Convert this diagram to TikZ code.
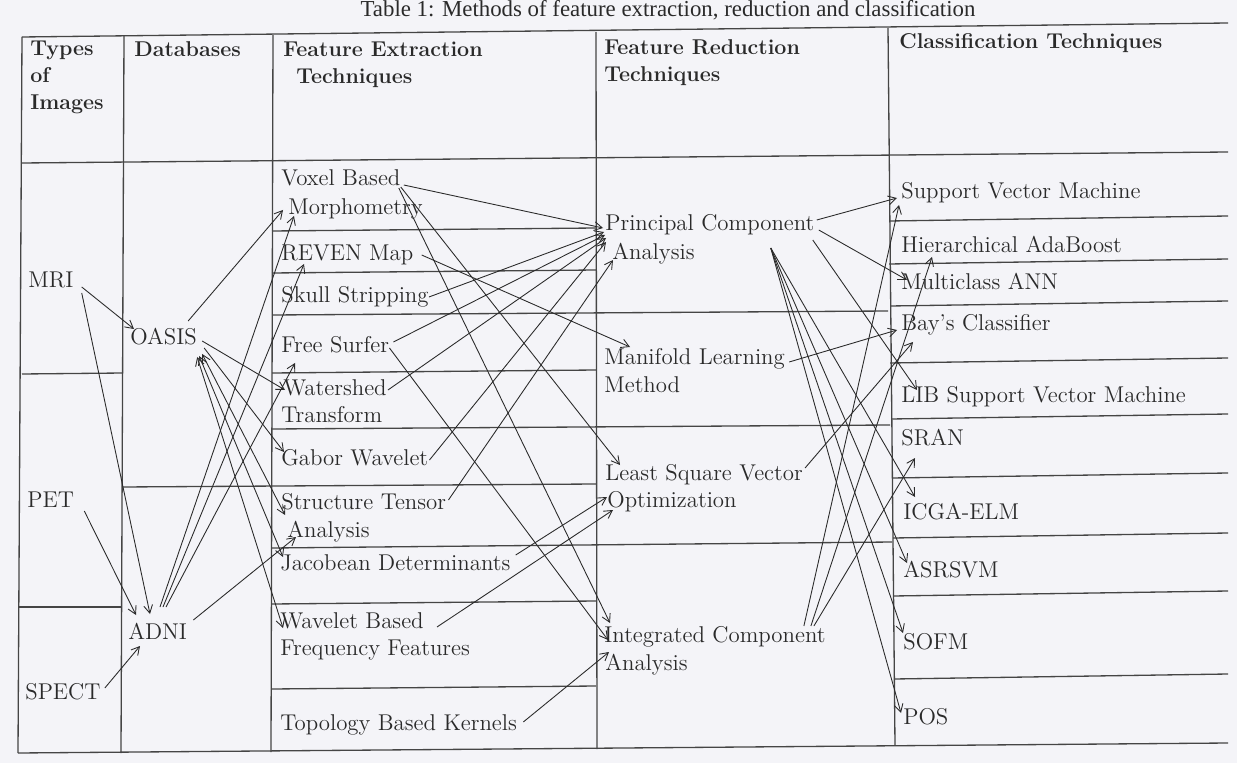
\documentclass[tikz,border=0pt]{standalone}
\usepackage{fontspec}
\newfontfamily\capfont{Liberation Serif}
\usetikzlibrary{arrows.meta,calc}
\definecolor{paper}{HTML}{F4F4F8}
\definecolor{ink}{HTML}{2A2A2A}
\definecolor{rule}{HTML}{454545}

\begin{document}
\begin{tikzpicture}[x=0.02cm,y=-0.02cm,
  >={Straight Barb[length=4.5pt,width=5pt]},
  lbl/.style={anchor=west,inner sep=0pt,text=ink,
    font=\fontsize{13}{15}\selectfont,text height=9pt,text depth=3pt},
  hdr/.style={lbl,font=\fontsize{12.2}{15}\selectfont\bfseries},
  grid/.style={draw=rule,line width=0.75pt},
  conn/.style={draw=ink,line width=0.5pt,->},
  twoway/.style={draw=ink,line width=0.5pt,<->}]

\useasboundingbox (0,0) rectangle (1237,763);
\fill[paper] (0,0) rectangle (1237,763);

% caption above the table
\node[anchor=base,inner sep=0pt,text=ink,font=\capfont\fontsize{13}{15}\selectfont]
  (caption) at (668,17) {Table 1: Methods of feature extraction, reduction and classification};

% ---------- table rules ----------
\draw[grid] (22,37) -- (1228,23);
\draw[grid] (22,163) -- (1228,152);
\draw[grid] (18,753) -- (1228,743);
\draw[grid] (22,37) -- (18,753);
\draw[grid] (124,36) -- (121,753);
\draw[grid] (273,35) -- (271,752);
\draw[grid] (596,32) -- (597,749);
\draw[grid] (888,28) -- (895,745);
% image types
\draw[grid] (22,374) -- (123,373);
\draw[grid] (19,607) -- (122,607);
% databases / feature extraction
\draw[grid] (122,487) -- (596,484);
\draw[grid] (272,231) -- (596,228);
\draw[grid] (272,273) -- (596,270);
\draw[grid] (272,315) -- (888,311);
\draw[grid] (272,373) -- (596,370);
\draw[grid] (272,429) -- (890,425);
\draw[grid] (272,548) -- (892,542);
\draw[grid] (272,604) -- (596,601);
\draw[grid] (272,689) -- (596,686);
% classification
\draw[grid] (889,221) -- (1228,216);
\draw[grid] (889,264) -- (1228,259);
\draw[grid] (890,306) -- (1228,301);
\draw[grid] (890,363) -- (1228,358);
\draw[grid] (891,419) -- (1228,414);
\draw[grid] (892,478) -- (1228,473);
\draw[grid] (893,538) -- (1228,533);
\draw[grid] (893,596) -- (1228,591);
\draw[grid] (894,679) -- (1228,674);

% ---------- header ----------
\node[hdr] (hT1) at (30,50) {Types};
\node[hdr] (hT2) at (30,77) {of};
\node[hdr] (hT3) at (30,104) {Images};
\node[hdr] (hDb) at (134,51) {Databases};
\node[hdr] (hFe1) at (283,51) {Feature Extraction};
\node[hdr] (hFe2) at (296,78) {Techniques};
\node[hdr] (hFr1) at (604,49) {Feature Reduction};
\node[hdr] (hFr2) at (604,76) {Techniques};
\node[hdr] (hCl) at (899,43) {Classification Techniques};

% ---------- image types and databases ----------
\node[lbl] (mri) at (28,282) {MRI};
\node[lbl] (pet) at (27,502) {PET};
\node[lbl] (spect) at (25,694) {SPECT};
\node[lbl] (oasis) at (130,339) {OASIS};
\node[lbl] (adni) at (128,634) {ADNI};

% ---------- feature extraction ----------
\node[lbl] (vbm1) at (281,180) {Voxel Based};
\node[lbl] (vbm2) at (288,209) {Morphometry};
\node[lbl] (reven) at (281,255) {REVEN Map};
\node[lbl] (skull) at (281,297) {Skull Stripping};
\node[lbl] (free) at (281,347) {Free Surfer};
\node[lbl] (wat1) at (283,390) {Watershed};
\node[lbl] (wat2) at (281,417) {Transform};
\node[lbl] (gabor) at (281,460) {Gabor Wavelet};
\node[lbl] (st1) at (281,504) {Structure Tensor};
\node[lbl] (st2) at (287,532) {Analysis};
\node[lbl] (jac) at (280,565) {Jacobean Determinants};
\node[lbl] (wb1) at (280,623) {Wavelet Based};
\node[lbl] (wb2) at (280,650) {Frequency Features};
\node[lbl] (topo) at (280,725) {Topology Based Kernels};

% ---------- feature reduction ----------
\node[lbl] (pca1) at (605,225) {Principal Component};
\node[lbl] (pca2) at (612,254) {Analysis};
\node[lbl] (mlm1) at (604,359) {Manifold Learning};
\node[lbl] (mlm2) at (604,387) {Method};
\node[lbl] (lsv1) at (605,475) {Least Square Vector};
\node[lbl] (lsv2) at (607,502) {Optimization};
\node[lbl] (ica1) at (604,637) {Integrated Component};
\node[lbl] (ica2) at (605,665) {Analysis};

% ---------- classification ----------
\node[lbl] (svm) at (901,193) {Support Vector Machine};
\node[lbl] (hada) at (901,247) {Hierarchical AdaBoost};
\node[lbl] (mann) at (901,284) {Multiclass ANN};
\node[lbl] (bay) at (901,325) {Bay’s Classifier};
\node[lbl] (lib) at (901,397) {LIB Support Vector Machine};
\node[lbl] (sran) at (901,440) {SRAN};
\node[lbl] (icga) at (903,514) {ICGA-ELM};
\node[lbl] (asr) at (903,572) {ASRSVM};
\node[lbl] (sofm) at (903,644) {SOFM};
\node[lbl] (pos) at (903,719) {POS};

% ---------- image types -> databases ----------
\draw[conn] ($(mri.east)+(8,5)$) -- ($(oasis.west)+(4,-10)$);
\draw[conn] ($(mri.east)+(8,11)$) -- ($(adni.west)+(22,-20)$);
\draw[conn] ($(pet.east)+(10,9)$) -- ($(adni.west)+(8,-19)$);
\draw[conn] ($(spect.east)+(4,-6)$) -- ($(adni.west)+(12,12)$);

% ---------- databases -> feature extraction ----------
\draw[conn] ($(oasis.east)+(-9,-18)$) -- ($(vbm2.west)+(-5,1)$);
\draw[conn] ($(oasis.east)+(5,2)$) -- ($(wat1.west)+(2,0)$);
\draw[conn] ($(oasis.east)+(7,9)$) -- ($(gabor.west)+(3,-8)$);
\draw[twoway] ($(oasis.east)+(5,15)$) -- ($(st1.west)+(4,11)$);
\draw[twoway] ($(oasis.east)+(2,17)$) -- ($(jac.west)+(3,-8)$);
\draw[twoway] ($(oasis.east)+(0,18)$) -- ($(wb1.west)+(3,5)$);
\draw[conn] ($(adni.west)+(32,-27)$) -- ($(vbm2.west)+(6,7)$);
\draw[conn] ($(adni.west)+(35,-27)$) -- ($(reven.west)+(23,9)$);
\draw[conn] ($(adni.west)+(38,-27)$) -- ($(free.west)+(14,16)$);
\draw[conn] ($(adni.east)+(6,-14)$) -- ($(st2.west)+(9,5)$);

% ---------- feature extraction -> feature reduction ----------
\draw[conn] ($(vbm1.east)+(3,5)$) -- ($(pca1.west)+(-2,3)$);
\draw[conn] ($(skull.east)+(0,0)$) -- ($(pca1.west)+(-1,7)$);
\draw[conn] ($(free.east)+(4,-5)$) -- ($(pca1.west)+(0,10)$);
\draw[conn] ($(wat1.east)+(1,0)$) -- ($(pca1.west)+(1,13)$);
\draw[conn] ($(gabor.east)+(1,0)$) -- ($(pca1.west)+(1,17)$);
\draw[conn] ($(st1.east)+(2,-4)$) -- ($(pca2.west)+(1,6)$);
\draw[conn] ($(reven.east)+(8,0)$) -- ($(mlm1.west)+(26,-12)$);
\draw[conn] ($(vbm1.east)+(0,7)$) -- ($(lsv1.west)+(15,-10)$);
\draw[conn] ($(vbm1.east)+(-2,8)$) -- ($(ica1.west)+(6,-14)$);
\draw[conn] ($(free.east)+(0,1)$) -- ($(ica1.west)+(4,3)$);
\draw[conn] ($(jac.east)+(5,-10)$) -- ($(lsv2.west)+(0,-5)$);
\draw[conn] ($(wb1.east)+(13,4)$) -- ($(lsv2.west)+(6,8)$);
\draw[conn] ($(topo.east)+(6,-3)$) -- ($(ica2.west)+(4,-13)$);

% ---------- feature reduction -> classification ----------
\draw[conn] ($(pca1.east)+(2,-5)$) -- ($(svm.west)+(-4,5)$);
\draw[conn] ($(pca1.east)+(4,5)$) -- ($(mann.west)+(6,-4)$);
\draw[conn] ($(pca1.east)+(-2,15)$) -- ($(lib.west)+(16,-7)$);
\draw[conn] ($(pca1.east)+(-44,23)$) -- ($(icga.west)+(12,-17)$);
\draw[conn] ($(pca1.east)+(-44,23)$) -- ($(asr.west)+(4,-9)$);
\draw[conn] ($(pca1.east)+(-44,23)$) -- ($(sofm.west)+(0,-11)$);
\draw[conn] ($(pca1.east)+(-44,23)$) -- ($(pos.west)+(-2,-6)$);
\draw[conn] ($(mlm1.east)+(4,3)$) -- ($(bay.west)+(-4,5)$);
\draw[conn] ($(lsv1.east)+(2,-7)$) -- ($(bay.west)+(12,17)$);
\draw[conn] ($(ica1.east)+(-22,-11)$) -- ($(svm.west)+(-2,12)$);
\draw[conn] ($(ica1.east)+(-15,-11)$) -- ($(hada.west)+(31,10)$);
\draw[conn] ($(ica1.east)+(-12,-11)$) -- ($(sran.west)+(14,18)$);
\end{tikzpicture}
\end{document}
